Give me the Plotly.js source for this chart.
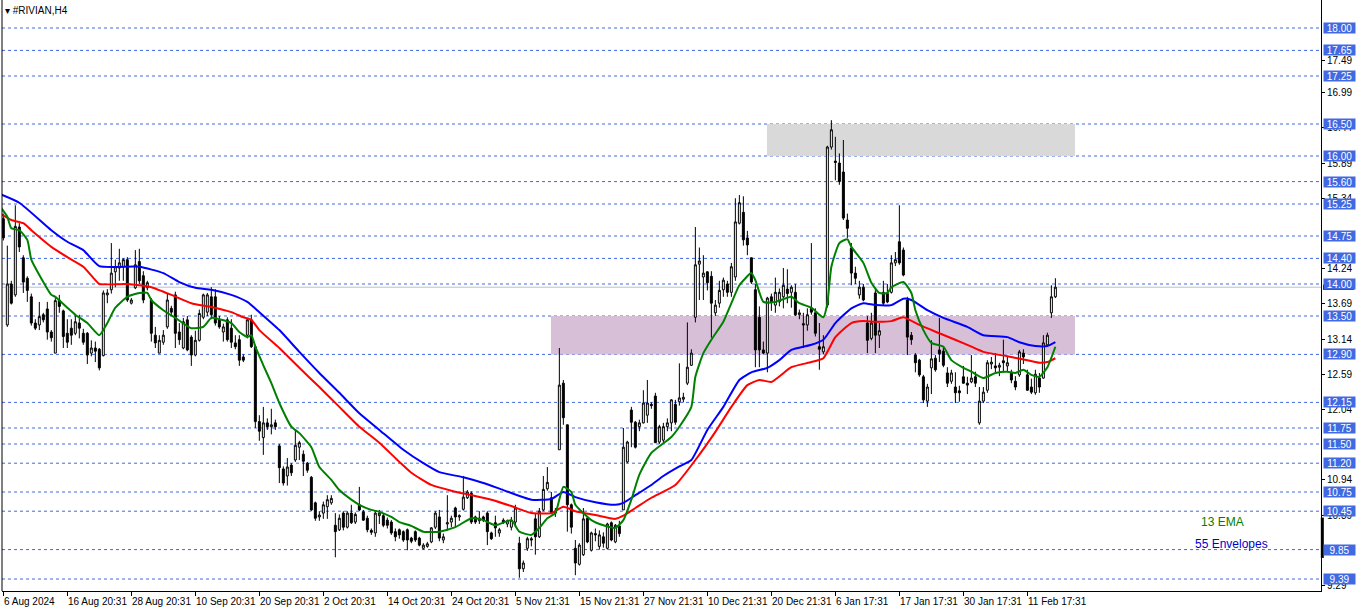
<!DOCTYPE html>
<html>
<head>
<meta charset="utf-8">
<script src="https://cdn.plot.ly/plotly-3.0.1.min.js"></script>
<style>html,body{margin:0;padding:0;background:#fff;}#chart{width:1362px;height:611px;}</style>
</head>
<body>
<div id="chart"></div>
<script>
// ---- Data (H4 bars, index 0 = 6 Aug 2024) ----
const opens = [15.02,13.36,14.00,13.83,14.89,14.41,14.09,13.80,13.39,13.36,13.52,13.61,13.25,12.92,13.75,13.58,13.23,13.31,13.23,13.39,
13.23,13.23,12.92,13.00,12.98,12.88,13.83,13.91,14.19,14.25,14.27,14.38,13.70,13.94,14.35,14.13,13.94,13.75,13.20,12.92,
13.09,13.33,13.62,13.83,13.25,13.00,13.44,13.17,12.89,13.12,13.48,13.56,13.80,13.80,13.44,13.25,13.44,13.31,13.08,13.13,
12.86,13.20,13.44,13.02,11.85,11.60,11.83,11.77,11.83,11.47,11.11,11.00,11.17,11.25,11.45,11.34,11.20,10.98,10.58,10.36,
10.42,10.52,10.58,10.23,10.16,10.42,10.20,10.42,10.28,10.55,10.44,10.34,10.15,10.11,10.38,10.38,10.31,10.28,10.13,10.16,
10.13,10.16,10.03,10.13,10.03,9.87,9.90,9.97,10.20,10.36,10.00,10.25,10.28,10.50,10.36,10.48,10.66,10.73,10.36,10.30,
10.36,10.42,10.11,10.27,10.11,10.31,10.25,10.20,10.28,9.95,9.55,9.87,10.02,10.33,10.05,10.47,10.80,10.66,10.45,11.41,
12.45,11.80,10.55,9.87,9.62,9.77,10.34,9.84,10.10,9.90,10.05,9.87,10.27,9.97,10.22,10.47,11.22,12.03,11.84,11.77,
11.83,11.95,12.12,12.25,11.53,11.56,11.77,11.83,12.12,12.16,12.20,12.45,12.73,13.48,14.31,14.11,14.19,14.12,13.55,13.70,
13.91,14.00,13.87,14.11,14.95,15.12,14.72,14.41,13.91,13.48,12.97,12.92,13.80,13.67,13.72,13.80,13.92,13.87,13.87,13.52,
13.38,13.36,13.62,13.55,13.02,12.94,13.67,16.14,15.92,15.89,15.75,15.00,14.56,14.17,13.83,13.95,13.39,13.15,13.86,13.20,
13.87,13.85,13.87,14.33,14.66,14.53,13.75,13.20,12.89,12.81,12.55,12.17,12.69,12.84,12.97,12.95,12.61,12.48,12.39,12.33,
12.55,12.45,12.47,12.55,11.83,12.17,12.34,12.75,12.72,12.70,12.80,12.72,12.61,12.48,12.58,12.92,12.58,12.39,12.30,12.53,
12.53,13.05,13.55,13.80];
const highs = [15.10,14.60,14.05,15.23,14.95,14.45,14.12,13.85,13.45,13.72,13.55,13.72,13.28,13.78,13.83,13.60,13.45,13.45,13.52,13.52,
13.30,13.25,13.12,13.10,13.00,13.90,13.92,14.64,14.38,14.55,14.40,14.42,13.78,14.53,14.55,14.20,14.05,13.78,13.33,13.20,
13.28,13.85,13.66,13.88,13.39,13.47,13.50,13.20,13.27,13.60,13.85,13.86,13.95,13.92,13.50,13.38,13.48,13.45,13.20,13.20,
12.90,13.47,13.52,13.05,11.95,12.08,11.90,12.05,11.88,11.50,11.15,11.28,11.20,11.72,11.55,11.40,11.22,11.00,10.60,10.45,
10.60,10.70,10.70,10.42,10.40,10.45,10.45,10.55,10.43,10.83,10.47,10.38,10.18,10.45,10.47,10.42,10.35,10.31,10.18,10.18,
10.15,10.18,10.05,10.15,10.05,9.95,9.97,10.20,10.45,10.47,10.10,10.70,10.38,10.52,10.40,11.00,10.78,10.76,10.38,10.45,
10.38,10.45,10.13,10.38,10.19,10.34,10.32,10.36,10.55,10.05,9.68,10.05,10.05,10.42,10.50,11.00,11.14,10.75,10.50,13.00,
12.50,11.80,10.57,10.00,9.95,10.50,10.36,10.13,10.18,10.15,10.12,10.27,10.29,10.25,10.30,11.75,11.55,12.08,11.86,11.88,
12.34,12.50,12.15,12.30,11.80,11.83,11.90,12.20,12.19,12.76,12.30,13.40,12.98,14.89,14.57,14.45,14.20,14.20,13.75,14.05,
14.10,14.05,14.33,15.34,15.39,15.37,14.83,14.41,14.00,13.65,13.10,13.80,13.85,14.10,13.93,14.25,14.23,13.98,14.00,13.60,
13.55,13.62,14.64,13.62,13.39,13.20,16.16,16.56,16.30,16.04,16.25,15.10,14.64,14.27,14.05,14.00,13.50,13.55,13.92,13.39,
14.05,14.00,14.45,14.50,15.23,14.57,13.80,13.25,12.92,12.83,12.58,12.44,13.12,12.89,13.47,13.00,12.70,12.66,12.62,12.41,
12.72,12.55,12.89,12.63,12.39,12.39,12.81,12.86,12.92,12.77,13.13,12.86,12.66,12.56,12.97,12.98,12.66,12.52,12.66,12.61,
13.20,13.24,13.98,14.09];
const lows = [14.68,13.33,13.68,13.80,14.50,13.86,13.72,13.35,13.28,13.28,13.40,13.13,13.10,12.92,13.55,13.00,13.00,13.05,13.20,13.15,
13.05,12.75,12.87,12.78,12.65,12.87,13.70,13.85,13.95,14.05,14.05,13.72,13.68,13.92,14.00,13.70,13.90,13.10,13.00,12.92,
13.05,13.30,13.50,13.00,13.05,12.98,12.95,12.72,12.87,13.10,13.45,13.50,13.45,13.35,13.30,13.10,13.10,13.00,12.98,12.72,
12.78,13.15,13.00,11.75,11.55,11.33,11.72,11.65,11.72,10.89,10.85,10.85,11.00,11.22,11.25,11.00,11.05,10.45,10.30,10.30,
10.33,10.33,10.55,9.73,10.14,10.15,10.18,10.25,10.25,10.45,10.30,10.12,10.08,10.05,10.25,10.20,10.18,10.08,9.98,10.02,
9.97,9.84,9.95,9.97,9.90,9.85,9.88,9.95,10.17,9.98,9.95,10.15,10.20,10.20,10.30,10.46,10.64,10.25,10.25,10.25,
10.28,9.92,10.00,10.05,10.05,10.25,10.20,10.15,10.20,9.41,9.50,9.83,9.90,9.77,10.03,10.45,10.77,10.40,10.36,11.41,
11.80,10.13,10.10,9.45,9.60,9.75,9.95,9.82,9.98,9.85,9.88,9.85,9.98,9.95,10.05,10.47,11.20,11.45,11.43,11.70,
11.82,11.83,12.05,11.52,11.50,11.50,11.70,11.70,11.80,12.10,12.15,12.42,12.72,13.40,13.75,13.75,13.90,13.16,13.50,13.63,
13.80,13.80,13.80,14.05,14.93,14.60,14.45,14.00,12.70,12.70,12.90,12.62,13.58,13.55,13.65,13.62,13.70,13.63,13.50,13.45,
13.00,13.27,13.52,13.18,12.66,12.90,13.63,16.10,15.62,15.55,15.00,14.72,13.98,14.00,13.77,13.73,12.92,13.12,12.92,13.00,
13.66,13.70,13.85,14.28,14.30,14.12,12.89,13.05,12.62,12.55,12.14,12.08,12.28,12.63,12.78,12.70,12.39,12.44,12.14,12.16,
12.44,12.28,12.45,12.39,11.80,12.14,12.30,12.67,12.61,12.56,12.64,12.62,12.45,12.34,12.55,12.75,12.33,12.28,12.27,12.30,
12.52,13.05,13.47,13.78];
const closes = [14.72,14.00,13.70,14.90,14.58,14.03,13.90,13.39,13.31,13.49,13.44,13.25,13.16,13.74,13.65,13.18,13.09,13.20,13.41,13.31,
13.09,12.89,13.00,12.95,12.69,13.86,13.86,14.17,14.27,14.33,14.38,13.75,13.75,14.30,14.05,13.75,14.02,13.23,13.08,13.12,
13.20,13.75,13.56,13.23,13.13,13.41,12.97,12.89,13.12,13.54,13.83,13.83,13.52,13.39,13.33,13.33,13.13,13.09,13.02,12.81,
12.81,13.44,13.02,11.85,11.70,11.83,11.77,11.80,11.77,11.13,10.89,11.14,11.05,11.48,11.52,11.23,11.09,10.47,10.34,10.39,
10.55,10.63,10.65,10.13,10.34,10.20,10.42,10.27,10.40,10.47,10.31,10.16,10.12,10.42,10.42,10.23,10.23,10.11,10.05,10.08,
10.00,10.00,9.98,10.00,9.92,9.92,9.94,10.19,10.42,10.03,10.05,10.27,10.34,10.36,10.38,10.67,10.75,10.28,10.28,10.34,
10.31,10.13,10.02,10.19,10.16,10.27,10.30,10.31,10.50,9.55,9.64,10.02,10.00,10.05,10.45,10.79,10.90,10.42,10.42,12.42,
11.91,10.55,10.20,9.64,9.92,10.33,9.97,10.11,10.08,10.08,9.95,10.25,10.00,10.23,10.10,11.45,11.53,11.84,11.45,11.83,
12.14,12.14,12.10,11.52,11.77,11.77,11.83,12.19,11.84,12.22,12.23,12.70,12.92,14.30,14.36,14.17,14.02,13.70,13.67,13.90,
14.06,13.87,14.27,14.97,15.27,14.69,14.61,14.03,12.97,12.97,12.92,13.78,13.72,13.87,13.87,13.98,13.85,13.95,13.52,13.55,
13.36,13.52,13.56,13.23,12.98,13.02,16.14,16.41,15.90,15.60,15.03,14.87,14.17,14.09,13.95,13.75,13.12,13.39,13.20,13.27,
13.70,13.72,14.33,14.38,14.33,14.14,13.17,13.13,12.77,12.58,12.19,12.39,12.83,12.66,12.91,12.73,12.45,12.61,12.30,12.30,
12.45,12.42,12.53,12.45,12.17,12.31,12.77,12.78,12.69,12.73,12.77,12.77,12.50,12.39,12.94,12.86,12.34,12.31,12.59,12.39,
13.08,13.20,13.80,13.95];

// 13 EMA (green) at sample bars
const emaBars = [-1,1,2,4,6,7,9,12,13,16,18,21,24,26,28,31,34,36,37,40,43,47,50,52,54,57,59,61,62,63,65,67,69,72,74,77,79,82,84,87,89,92,94,97,99,102,105,109,113,117,120,123,127,129,132,134,136,138,140,142,143,147,150,153,155,157,159,162,167,169,172,173,175,177,180,182,184,187,188,190,193,197,199,202,205,206,207,209,211,212,215,217,219,221,222,225,227,228,230,232,235,237,240,242,245,248,251,253,255,257,259,261,263];
const emaVals = [15.23,15.05,14.87,14.84,14.69,14.38,14.14,13.83,13.80,13.63,13.52,13.39,13.20,13.39,13.63,13.80,13.86,13.86,13.75,13.59,13.47,13.31,13.33,13.47,13.45,13.39,13.25,13.17,13.20,13.02,12.73,12.45,12.14,11.77,11.67,11.45,11.14,10.94,10.78,10.63,10.55,10.47,10.44,10.36,10.28,10.22,10.13,10.13,10.20,10.34,10.31,10.23,10.31,10.13,10.08,10.19,10.34,10.42,10.83,10.75,10.55,10.31,10.23,10.19,10.31,10.63,11.02,11.36,11.61,11.77,12.08,12.55,12.92,13.13,13.41,13.70,13.98,14.17,14.06,13.72,13.72,13.80,13.70,13.63,13.48,13.70,14.27,14.64,14.70,14.58,14.33,14.02,13.86,13.86,13.95,14.03,13.86,13.59,13.28,13.08,13.02,12.81,12.69,12.63,12.53,12.61,12.63,12.61,12.66,12.58,12.55,12.70,13.02];

// 55 Envelopes, upper (blue) and lower (red)
const envUpBars = [-1,4,12,16,20,24,34,40,44,48,52,57,61,64,69,74,79,84,89,94,100,105,109,115,120,125,132,137,140,143,148,153,155,158,162,165,169,172,176,180,184,187,191,194,197,202,205,208,212,215,218,222,225,227,231,235,241,245,251,254,258,261,263];
const envUpVals = [15.41,15.27,14.84,14.66,14.53,14.28,14.27,14.17,14.03,13.94,13.91,13.83,13.72,13.56,13.28,12.94,12.61,12.30,11.98,11.72,11.41,11.20,11.06,10.98,10.89,10.78,10.63,10.64,10.75,10.67,10.59,10.55,10.58,10.70,10.86,11.00,11.15,11.25,11.72,12.08,12.50,12.62,12.69,12.81,12.97,13.05,13.13,13.39,13.62,13.70,13.67,13.67,13.77,13.75,13.59,13.47,13.33,13.20,13.17,13.09,13.03,13.03,13.09];
const envLoBars = [-1,2,5,7,12,16,20,23,24,31,34,37,42,47,52,57,60,62,64,69,74,79,84,89,94,99,102,107,112,117,122,127,132,137,140,143,148,153,155,158,162,168,173,178,182,186,189,192,197,202,205,208,212,215,218,222,225,229,234,241,245,251,256,259,261,263];
const envLoVals = [15.11,15.00,14.95,14.84,14.58,14.42,14.27,14.06,14.00,14.00,13.98,13.95,13.83,13.70,13.64,13.56,13.48,13.44,13.28,13.00,12.69,12.39,12.08,11.77,11.52,11.22,11.05,10.86,10.77,10.70,10.63,10.53,10.42,10.42,10.52,10.45,10.39,10.33,10.38,10.50,10.66,10.86,11.25,11.69,12.08,12.42,12.50,12.47,12.70,12.78,12.84,13.17,13.39,13.42,13.41,13.42,13.48,13.36,13.23,13.05,12.94,12.87,12.81,12.77,12.78,12.84];

// Horizontal levels (blue tags on the price scale)
const levels = [18.00,17.65,17.25,16.50,16.00,15.60,15.25,14.75,14.40,14.00,13.50,12.90,12.15,11.75,11.50,11.20,10.75,10.45,9.85,9.39];
// Price scale tick labels (those visible in the picture)
const priceTicks = [17.49,16.99,16.44,15.89,15.34,14.24,13.69,13.14,12.59,12.04,10.94,10.39,9.29];
// Zones [startBar, endBar, low, high]
const zoneGray = [190.9, 267.9, 16.00, 16.50];
const zonePurple = [136.9, 267.9, 12.90, 13.50];
const bidPrice = 13.95;
// Time scale
const timeTickBars = [0,16,32,48,64,80,96,112,128,144,160,176,192,208,224,240,256];
const timeTickLabels = ["6 Aug 2024","16 Aug 20:31","28 Aug 20:31","10 Sep 20:31","20 Sep 20:31","2 Oct 20:31","14 Oct 20:31","24 Oct 20:31","5 Nov 21:31","15 Nov 21:31","27 Nov 21:31","10 Dec 21:31","20 Dec 21:31","6 Jan 17:31","17 Jan 17:31","30 Jan 17:31","11 Feb 17:31"];

const FONT = "Liberation Sans, Arial, sans-serif";
const bars = opens.map((_, i) => i);

const traces = [
  {
    type: 'candlestick', x: bars, open: opens, high: highs, low: lows, close: closes,
    increasing: {line: {color: '#000000', width: 1}, fillcolor: '#ffffff'},
    decreasing: {line: {color: '#000000', width: 1}, fillcolor: '#000000'},
    whiskerwidth: 0, hoverinfo: 'skip', showlegend: false
  },
  {type: 'scatter', mode: 'lines', x: envUpBars, y: envUpVals, line: {color: '#0000ff', width: 2, shape: 'spline', smoothing: 0.5}, hoverinfo: 'skip'},
  {type: 'scatter', mode: 'lines', x: envLoBars, y: envLoVals, line: {color: '#ff0000', width: 2, shape: 'spline', smoothing: 0.5}, hoverinfo: 'skip'},
  {type: 'scatter', mode: 'lines', x: emaBars, y: emaVals, line: {color: '#008000', width: 2, shape: 'spline', smoothing: 0.5}, hoverinfo: 'skip'}
];

const shapes = [];
shapes.push({type: 'rect', xref: 'x', yref: 'y', x0: zoneGray[0], x1: zoneGray[1], y0: zoneGray[2], y1: zoneGray[3], fillcolor: '#d9d9d9', line: {width: 0}, layer: 'below'});
shapes.push({type: 'rect', xref: 'x', yref: 'y', x0: zonePurple[0], x1: zonePurple[1], y0: zonePurple[2], y1: zonePurple[3], fillcolor: '#d8bfd8', line: {width: 0}, layer: 'below'});
levels.forEach(v => shapes.push({type: 'line', xref: 'paper', yref: 'y', x0: 0, x1: 1, y0: v, y1: v, line: {color: '#4169e1', width: 1, dash: '3px,3px'}, layer: 'below'}));
shapes.push({type: 'line', xref: 'paper', yref: 'y', x0: 0, x1: 1, y0: bidPrice, y1: bidPrice, line: {color: '#c0c0c0', width: 1}, layer: 'below'});
shapes.push({type: 'line', xref: 'paper', yref: 'paper', x0: 0, x1: 0, y0: 0, y1: 1, line: {color: '#000000', width: 1}});
shapes.push({type: 'line', xref: 'paper', yref: 'y', x0: 1.001, x1: 1.001, y0: 10.35, y1: 9.72, line: {color: '#000000', width: 3}});
// bid price tag (mostly hidden behind the 14.00 tag)
shapes.push({type: 'rect', xref: 'paper', yref: 'y', x0: 1.0015, x1: 1.025, y0: bidPrice - 0.04, y1: bidPrice + 0.04, fillcolor: '#000000', line: {width: 0}});

const annotations = [];
levels.forEach(v => annotations.push({xref: 'paper', yref: 'y', x: 1, xanchor: 'left', xshift: 2, y: v, yanchor: 'middle', text: v.toFixed(2), showarrow: false, bgcolor: '#4169e1', font: {family: FONT, size: 10, color: '#ffffff'}, width: 31, height: 10, borderpad: 0}));
timeTickBars.forEach((b, k) => annotations.push({xref: 'x', yref: 'paper', x: b, xanchor: 'left', xshift: -1, y: 0, yanchor: 'top', yshift: -3, text: timeTickLabels[k], showarrow: false, font: {family: FONT, size: 10, color: '#000000'}}));
annotations.push({xref: 'paper', yref: 'paper', x: 0, xshift: 1, xanchor: 'left', y: 1, yanchor: 'top', yshift: -3, text: '\u25BE #RIVIAN,H4', showarrow: false, font: {family: FONT, size: 10, color: '#000000'}});
annotations.push({xref: 'paper', yref: 'paper', x: 0.925, xanchor: 'center', y: (591 - 522) / 591, yanchor: 'middle', text: '13 EMA', showarrow: false, font: {family: FONT, size: 12, color: '#008000'}});
annotations.push({xref: 'paper', yref: 'paper', x: 0.9325, xanchor: 'center', y: (591 - 544) / 591, yanchor: 'middle', text: '55 Envelopes', showarrow: false, font: {family: FONT, size: 12, color: '#0000cd'}});

const layout = {
  width: 1362, height: 611,
  margin: {l: 2, r: 41, t: 0, b: 20, pad: 0},
  paper_bgcolor: '#ffffff', plot_bgcolor: '#ffffff',
  showlegend: false, hovermode: false,
  xaxis: {
    range: [-0.33, 329.4], showgrid: false, zeroline: false,
    showline: true, linecolor: '#000000', linewidth: 1,
    ticks: 'outside', ticklen: 4, tickcolor: '#000000',
    tickvals: timeTickBars, showticklabels: false,
    rangeslider: {visible: false}, fixedrange: true
  },
  yaxis: {
    side: 'right', range: [9.203, 18.4375], showgrid: false, zeroline: false,
    showline: true, linecolor: '#000000', linewidth: 1,
    ticks: 'outside', ticklen: 3, tickcolor: '#000000',
    tickvals: priceTicks, ticktext: priceTicks.map(v => v.toFixed(2)),
    tickfont: {family: FONT, size: 10, color: '#000000'}, fixedrange: true
  },
  shapes: shapes,
  annotations: annotations
};

Plotly.newPlot('chart', traces, layout, {staticPlot: true, displayModeBar: false});
</script>
</body>
</html>
